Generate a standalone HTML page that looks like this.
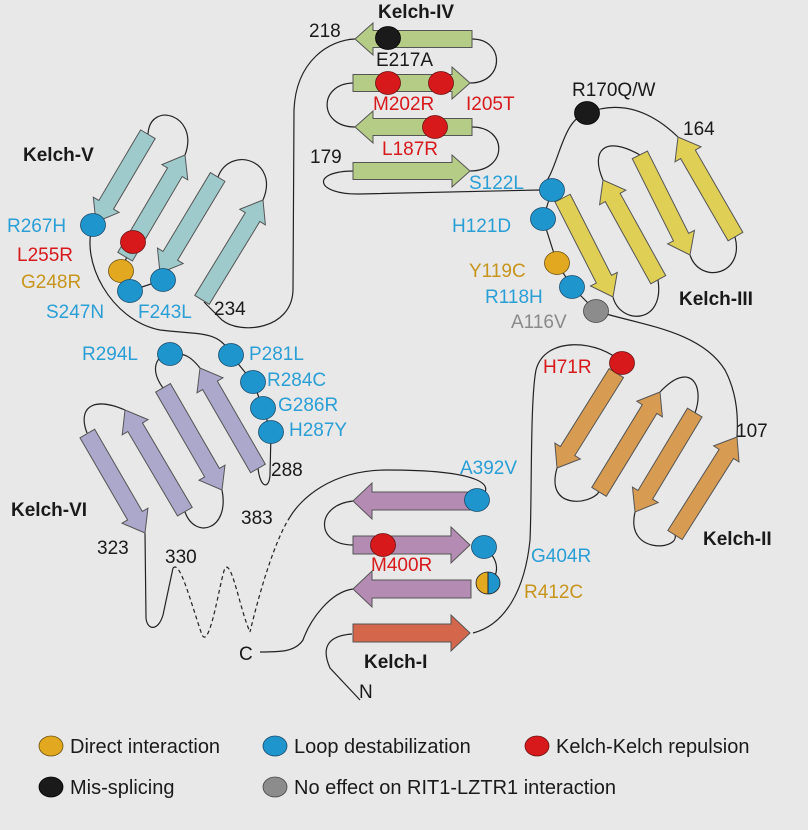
<!DOCTYPE html>
<html><head><meta charset="utf-8"><style>
html,body{margin:0;padding:0;background:#e8e8e8;}
svg{display:block;font-family:"Liberation Sans",Arial,sans-serif;}
.l{fill:none;stroke:#222;stroke-width:1.2}
.d{fill:none;stroke:#222;stroke-width:1.2;stroke-dasharray:4 3}
.a{stroke:#555;stroke-width:1}
.t{font-size:19px}
.b{font-size:19px;font-weight:bold;fill:#1a1a1a}
.g{font-size:20px;fill:#1a1a1a}
.bl{fill:#2a9fd6}.rd{fill:#d7191c}.gd{fill:#c8951c}.gy{fill:#8a8a8a}.bk{fill:#1a1a1a}
.db{fill:#1e95cc;stroke:#1a4a6a;stroke-width:.8}
.dr{fill:#d7191c;stroke:#6a1010;stroke-width:.8}
.dg{fill:#e2a820;stroke:#6a5010;stroke-width:.8}
.dk{fill:#1a1a1a;stroke:#000;stroke-width:.8}
.dy{fill:#8c8c8c;stroke:#444;stroke-width:.8}
</style></head><body>
<svg width="808" height="830" viewBox="0 0 808 830">
<rect width="808" height="830" fill="#e8e8e8"/>
<path class="l" d="M472,39 C505,39 505,83 470,83"/>
<path class="l" d="M354,83 C318,83 318,127 355,127"/>
<path class="l" d="M472,127 C508,127 508,171 470,171"/>
<path class="l" d="M354,171 C310,171 315,195 360,194 L540,190"/>
<path class="l" d="M355,39 C330,40 296,60 294,110 L293,290 C292,330 240,335 222,320 L204,302"/>
<path class="l" d="M540,190 C560,170 560,120 587,113 C620,100 650,110 678,137"/>
<path class="l" d="M552,190 L543,219 L557,263 L572,287 L596,311 C640,325 700,330 725,370 C738,395 738,420 737,437"/>
<path class="l" d="M613,297 C620,325 665,325 658,280"/>
<path class="l" d="M603,180 C590,150 605,135 640,155"/>
<path class="l" d="M690,255 C700,285 745,275 735,237"/>
<path class="l" d="M622,363 C600,340 545,335 536,370 C530,400 532,500 530,540 C525,590 505,625 473,633"/>
<path class="l" d="M557,468 C545,510 590,505 599,492"/>
<path class="l" d="M660,392 C690,360 705,385 695,413"/>
<path class="l" d="M635,512 C625,555 680,550 675,535"/>
<path class="l" d="M353,501 C315,505 315,545 353,545"/>
<path class="l" d="M484,547 C500,560 500,575 488,583"/>
<path class="l" d="M477,500 C500,485 480,470 387,470 C330,470 300,500 290,517"/>
<path class="d" d="M290,517 C275,540 260,590 250,632"/>
<path class="l" d="M353,589 C330,592 310,620 303,640 C295,652 280,652 260,652"/>
<path class="l" d="M352,634 C325,636 322,650 330,668 L360,700"/>
<path class="l" d="M145,533 L146,618 C147,630 158,632 163,615 L173,568"/>
<path class="d" d="M173,568 C180,560 190,600 202,635 C210,650 220,580 225,568 C232,560 240,610 250,632"/>
<path class="l" d="M87,433 C78,410 90,395 125,410"/>
<path class="l" d="M185,512 C195,540 230,530 222,490"/>
<path class="l" d="M163,388 C150,370 155,355 170,354 C185,352 192,358 200,368"/>
<path class="l" d="M231,355 L253,382 L263,408 L271,432 L270,475 C269,490 260,488 258,468"/>
<path class="l" d="M93,225 C80,260 110,320 160,330 C200,335 220,330 231,355"/>
<path class="l" d="M148,134 C150,100 200,115 185,155"/>
<path class="l" d="M218,177 C230,145 280,160 263,200"/>
<path class="l" d="M160,273 L163,280 L130,291 L121,271 L133,242 L125,257"/>

<g class="a" fill="#b5cc86">
<polygon transform="translate(355,39) rotate(180)" points="-117,-8.5 -18,-8.5 -18,-16 0,0 -18,16 -18,8.5 -117,8.5"/>
<polygon transform="translate(470,83)" points="-117,-8.5 -18,-8.5 -18,-16 0,0 -18,16 -18,8.5 -117,8.5"/>
<polygon transform="translate(355,127) rotate(180)" points="-117,-8.5 -18,-8.5 -18,-16 0,0 -18,16 -18,8.5 -117,8.5"/>
<polygon transform="translate(470,171)" points="-117,-8.5 -18,-8.5 -18,-16 0,0 -18,16 -18,8.5 -117,8.5"/>
</g>
<g class="a" fill="#9ecacb">
<polygon transform="translate(96,222) rotate(120.6)" points="-102,-8.5 -20,-8.5 -20,-15 0,0 -20,15 -20,8.5 -102,8.5"/>
<polygon transform="translate(185,155) rotate(-59.5)" points="-118,-8.5 -20,-8.5 -20,-15 0,0 -20,15 -20,8.5 -118,8.5"/>
<polygon transform="translate(160,273) rotate(121)" points="-112,-8.5 -20,-8.5 -20,-15 0,0 -20,15 -20,8.5 -112,8.5"/>
<polygon transform="translate(263,200) rotate(-58.6)" points="-117,-8.5 -20,-8.5 -20,-15 0,0 -20,15 -20,8.5 -117,8.5"/>
</g>
<g class="a" fill="#aba8cc">
<polygon transform="translate(145,533) rotate(59.9)" points="-115,-8.5 -20,-8.5 -20,-15 0,0 -20,15 -20,8.5 -115,8.5"/>
<polygon transform="translate(125,410) rotate(-120.5)" points="-118,-8.5 -20,-8.5 -20,-15 0,0 -20,15 -20,8.5 -118,8.5"/>
<polygon transform="translate(222,490) rotate(60)" points="-118,-8.5 -20,-8.5 -20,-15 0,0 -20,15 -20,8.5 -118,8.5"/>
<polygon transform="translate(200,368) rotate(-120)" points="-116,-8.5 -20,-8.5 -20,-15 0,0 -20,15 -20,8.5 -116,8.5"/>
</g>
<g class="a" fill="#d79b52">
<polygon transform="translate(557,468) rotate(122)" points="-112,-8.5 -20,-8.5 -20,-15 0,0 -20,15 -20,8.5 -112,8.5"/>
<polygon transform="translate(660,392) rotate(-58.6)" points="-117,-8.5 -20,-8.5 -20,-15 0,0 -20,15 -20,8.5 -117,8.5"/>
<polygon transform="translate(635,512) rotate(121)" points="-116,-8.5 -20,-8.5 -20,-15 0,0 -20,15 -20,8.5 -116,8.5"/>
<polygon transform="translate(737,437) rotate(-57.7)" points="-116,-8.5 -20,-8.5 -20,-15 0,0 -20,15 -20,8.5 -116,8.5"/>
</g>
<g class="a" fill="#e0cf55">
<polygon transform="translate(613,297) rotate(63)" points="-111,-8.5 -20,-8.5 -20,-15 0,0 -20,15 -20,8.5 -111,8.5"/>
<polygon transform="translate(603,180) rotate(-119)" points="-114,-8.5 -20,-8.5 -20,-15 0,0 -20,15 -20,8.5 -114,8.5"/>
<polygon transform="translate(690,255) rotate(63.4)" points="-112,-8.5 -20,-8.5 -20,-15 0,0 -20,15 -20,8.5 -112,8.5"/>
<polygon transform="translate(678,137) rotate(-120)" points="-115,-8.5 -20,-8.5 -20,-15 0,0 -20,15 -20,8.5 -115,8.5"/>
</g>
<g class="a" fill="#b38bb3">
<polygon transform="translate(353,501) rotate(180)" points="-118,-9 -19,-9 -19,-18 0,0 -19,18 -19,9 -118,9"/>
<polygon transform="translate(470,545)" points="-117,-9 -19,-9 -19,-18 0,0 -19,18 -19,9 -117,9"/>
<polygon transform="translate(353,589) rotate(180)" points="-118,-9 -19,-9 -19,-18 0,0 -19,18 -19,9 -118,9"/>
</g>
<polygon class="a" fill="#d4664b" transform="translate(470,633)" points="-117,-9 -19,-9 -19,-18 0,0 -19,18 -19,9 -117,9"/>

<ellipse class="dk" cx="388" cy="38" rx="12.5" ry="11.5"/>
<ellipse class="dr" cx="388" cy="83" rx="12.5" ry="11.5"/>
<ellipse class="dr" cx="441" cy="83" rx="12.5" ry="11.5"/>
<ellipse class="dr" cx="435" cy="127" rx="12.5" ry="11.5"/>
<ellipse class="dk" cx="587" cy="113" rx="12.5" ry="11.5"/>
<ellipse class="db" cx="552" cy="190" rx="12.5" ry="11.5"/>
<ellipse class="db" cx="543" cy="219" rx="12.5" ry="11.5"/>
<ellipse class="dg" cx="557" cy="263" rx="12.5" ry="11.5"/>
<ellipse class="db" cx="572" cy="287" rx="12.5" ry="11.5"/>
<ellipse class="dy" cx="596" cy="311" rx="12.5" ry="11.5"/>
<ellipse class="dr" cx="622" cy="363" rx="12.5" ry="11.5"/>
<ellipse class="db" cx="93" cy="225" rx="12.5" ry="11.5"/>
<ellipse class="dr" cx="133" cy="242" rx="12.5" ry="11.5"/>
<ellipse class="dg" cx="121" cy="271" rx="12.5" ry="11.5"/>
<ellipse class="db" cx="130" cy="291" rx="12.5" ry="11.5"/>
<ellipse class="db" cx="163" cy="280" rx="12.5" ry="11.5"/>
<ellipse class="db" cx="170" cy="354" rx="12.5" ry="11.5"/>
<ellipse class="db" cx="231" cy="355" rx="12.5" ry="11.5"/>
<ellipse class="db" cx="253" cy="382" rx="12.5" ry="11.5"/>
<ellipse class="db" cx="263" cy="408" rx="12.5" ry="11.5"/>
<ellipse class="db" cx="271" cy="432" rx="12.5" ry="11.5"/>
<ellipse class="db" cx="477" cy="500" rx="12.5" ry="11.5"/>
<ellipse class="dr" cx="383" cy="545" rx="12.5" ry="11.5"/>
<ellipse class="db" cx="484" cy="547" rx="12.5" ry="11.5"/>
<path d="M488,572 A12,11 0 0,0 488,594 Z" fill="#e2a820"/>
<path d="M488,572 A12,11 0 0,1 488,594 Z" fill="#1e95cc"/>
<ellipse cx="488" cy="583" rx="12" ry="11" fill="none" stroke="#222" stroke-width=".8"/>
<line x1="488" y1="572" x2="488" y2="594" stroke="#222" stroke-width="1"/>

<text class="b" x="378" y="18">Kelch-IV</text>
<text class="t bk" x="309" y="37">218</text>
<text class="t bk" x="376" y="66">E217A</text>
<text class="t rd" x="373" y="110">M202R</text>
<text class="t rd" x="466" y="110">I205T</text>
<text class="t rd" x="382" y="155">L187R</text>
<text class="t bk" x="310" y="163">179</text>
<text class="t bk" x="572" y="96">R170Q/W</text>
<text class="t bk" x="683" y="135">164</text>
<text class="t bl" x="469" y="189">S122L</text>
<text class="t bl" x="452" y="232">H121D</text>
<text class="t gd" x="469" y="277">Y119C</text>
<text class="t bl" x="485" y="303">R118H</text>
<text class="t gy" x="511" y="328">A116V</text>
<text class="b" x="679" y="305">Kelch-III</text>
<text class="t rd" x="543" y="373">H71R</text>
<text class="t bk" x="736" y="437">107</text>
<text class="b" x="703" y="545">Kelch-II</text>
<text class="b" x="23" y="161">Kelch-V</text>
<text class="t bl" x="7" y="232">R267H</text>
<text class="t rd" x="17" y="261">L255R</text>
<text class="t gd" x="21" y="288">G248R</text>
<text class="t bl" x="46" y="318">S247N</text>
<text class="t bl" x="138" y="318">F243L</text>
<text class="t bk" x="214" y="315">234</text>
<text class="t bl" x="82" y="360">R294L</text>
<text class="t bl" x="249" y="360">P281L</text>
<text class="t bl" x="267" y="386">R284C</text>
<text class="t bl" x="278" y="411">G286R</text>
<text class="t bl" x="289" y="436">H287Y</text>
<text class="t bk" x="271" y="476">288</text>
<text class="b" x="11" y="516">Kelch-VI</text>
<text class="t bk" x="241" y="524">383</text>
<text class="t bk" x="97" y="554">323</text>
<text class="t bk" x="165" y="563">330</text>
<text class="t bl" x="460" y="474">A392V</text>
<text class="t rd" x="371" y="571">M400R</text>
<text class="t bl" x="531" y="562">G404R</text>
<text class="t gd" x="524" y="598">R412C</text>
<text class="t bk" x="239" y="660">C</text>
<text class="b" x="364" y="668">Kelch-I</text>
<text class="t bk" x="359" y="698">N</text>

<ellipse class="dg" cx="51" cy="746" rx="12" ry="10"/>
<text class="g" x="70" y="753">Direct interaction</text>
<ellipse class="db" cx="275" cy="746" rx="12" ry="10"/>
<text class="g" x="294" y="753">Loop destabilization</text>
<ellipse class="dr" cx="537" cy="746" rx="12" ry="10"/>
<text class="g" x="556" y="753">Kelch-Kelch repulsion</text>
<ellipse class="dk" cx="51" cy="787" rx="12" ry="10"/>
<text class="g" x="70" y="794">Mis-splicing</text>
<ellipse class="dy" cx="275" cy="787" rx="12" ry="10"/>
<text class="g" x="294" y="794">No effect on RIT1-LZTR1 interaction</text>
</svg>
</body></html>
